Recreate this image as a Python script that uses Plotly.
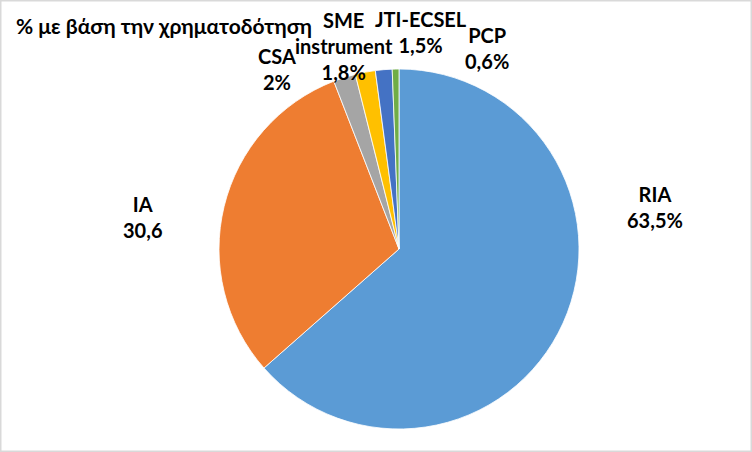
import plotly.graph_objects as go

# funding share per instrument (%)
labels = ["RIA", "IA", "CSA", "SME instrument", "JTI-ECSEL", "PCP"]
values = [63.5, 30.6, 2.0, 1.8, 1.5, 0.6]
show_pct = [True, False, True, True, True, True]
colors = ["#5B9BD5", "#EE7D31", "#A5A5A5", "#FFC000", "#4472C4", "#70AD47"]

title_text = "% με βάση την χρηματοδότηση"

W, H = 752, 452


def fmt(v, pct):
    s = ("%g" % v).replace(".", ",")
    return s + ("%" if pct else "")


fig = go.Figure()
fig.add_trace(go.Pie(
    labels=labels,
    values=values,
    sort=False,
    direction="clockwise",
    rotation=0,
    textinfo="none",
    hoverinfo="label+value",
    marker=dict(colors=colors, line=dict(color="white", width=0.8)),
    domain=dict(x=[219 / W, 579 / W], y=[1 - 429 / H, 1 - 69 / H]),
    showlegend=False,
))

# label block centres in pixels
label_pos = [(655, 207), (142, 217), (277, 69), (344, 46), (421, 32), (487, 48)]

for lab, v, p, (px, py) in zip(labels, values, show_pct, label_pos):
    fig.add_annotation(
        x=px / W, y=1 - py / H, xref="paper", yref="paper",
        text="<b>" + lab.replace(" ", "<br>") + "<br>" + fmt(v, p) + "</b>",
        showarrow=False, xanchor="center", yanchor="middle", align="center",
        font=dict(family="Lato", size=20, color="#000000"),
    )

fig.add_annotation(
    x=14 / W, y=1 - 25 / H, xref="paper", yref="paper",
    text="<b>" + title_text + "</b>", showarrow=False, xanchor="left", yanchor="middle",
    font=dict(family="Lato", size=21, color="#000000"),
)

# chart border
fig.add_shape(type="rect", xref="paper", yref="paper", x0=0, y0=0, x1=1, y1=1,
              line=dict(color="#D9D9D9", width=3))

fig.update_layout(
    width=W, height=H,
    margin=dict(l=0, r=0, t=0, b=0),
    paper_bgcolor="white",
    plot_bgcolor="white",
    font=dict(family="Lato"),
)

fig.write_html("out.html", config={"displayModeBar": False},
               post_script="document.body.style.margin='0';")
